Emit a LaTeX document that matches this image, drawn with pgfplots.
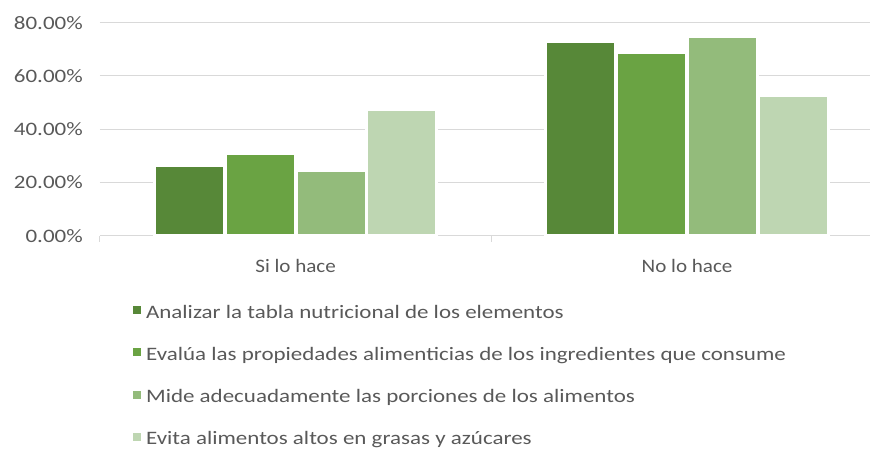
\documentclass[border=0pt]{standalone}
\usepackage{fontspec}
\setmainfont{Carlito}[FakeStretch=1.21]
\newfontfamily\xlfont{Carlito}[FakeStretch=1.11]
\usepackage{pgfplots}
\pgfplotsset{compat=1.18}
\definecolor{cA}{HTML}{578838}
\definecolor{cB}{HTML}{6AA343}
\definecolor{cC}{HTML}{93BB7B}
\definecolor{cD}{HTML}{BED6B2}
\definecolor{grd}{HTML}{D9D9D9}
\definecolor{txt}{HTML}{595959}
\newcommand{\lf}{\fontsize{19bp}{23bp}\selectfont}
\newcommand{\xf}{\xlfont\fontsize{19bp}{23bp}\selectfont}
\begin{document}
\begin{tikzpicture}
\begin{axis}[
  scale only axis,
  width=770bp, height=213.3bp,
  xmin=-0.5, xmax=1.466,
  ymin=0, ymax=80,
  ybar=0.9bp,
  bar width=70bp,
  axis x line*=bottom,
  axis y line*=left,
  y axis line style={draw=none},
  x axis line style={draw=grd, line width=1bp},
  ymajorgrids,
  grid style={draw=grd, line width=1bp},
  ytick={0,20,40,60,80},
  ytick style={draw=none},
  /pgf/number format/assume math mode=true,
  yticklabel={\pgfmathprintnumber[fixed,fixed zerofill,precision=2]{\tick}\%},
  yticklabel style={font=\lf, text=txt, inner sep=0pt, xshift=-17bp},
  xtick={0,1},
  xticklabels={Si lo hace, No lo hace},
  xtick style={draw=none},
  xticklabel style={font=\xf, text=txt, inner sep=0pt, anchor=north, text height=14bp, yshift=-18bp},
  extra x ticks={-0.5,0.5},
  extra x tick labels={},
  extra x tick style={xtick style={draw=grd, line width=1bp}, major tick length=6bp, tick align=outside, xmajorgrids=false},
  legend style={at={(0,0)}, anchor=north west, xshift=33bp, yshift=-68bp,
    draw=none, fill=none, inner sep=0pt, row sep=24.3bp, column sep=5bp,
    nodes={inner sep=0pt, text height=14bp, text depth=4bp, font=\lf, text=txt}},
  legend cell align=left,
  legend image code/.code={\fill[#1, draw=none] (0bp,-1bp) rectangle (8bp,7bp);},
  every axis plot/.append style={draw=white, line width=3bp},
]
\addplot[fill=cA] coordinates {(0,26.5) (1,73.0)};
\addplot[fill=cB] coordinates {(0,30.8) (1,68.7)};
\addplot[fill=cC] coordinates {(0,24.4) (1,75.0)};
\addplot[fill=cD] coordinates {(0,47.3) (1,52.7)};
\legend{Analizar la tabla nutricional de los elementos,
Evalúa las propiedades alimenticias de los ingredientes que consume,
Mide adecuadamente las porciones de los alimentos,
Evita alimentos altos en grasas y azúcares}
\end{axis}
\useasboundingbox (-100bp,-217bp) rectangle (770bp,236bp);
\end{tikzpicture}
\end{document}
